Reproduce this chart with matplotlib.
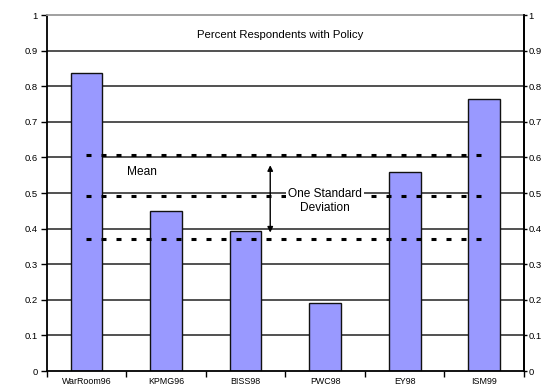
import matplotlib
matplotlib.use("Agg")
import matplotlib.pyplot as plt
from matplotlib.ticker import FixedLocator, FuncFormatter

plt.rcParams['font.family'] = ['Liberation Sans', 'DejaVu Sans']
plt.rcParams['lines.scale_dashes'] = False

# Survey data
categories = ["WarRoom96", "KPMG96", "BISS98", "PWC98", "EY98", "ISM99"]
pct_with_policy = [0.836, 0.45, 0.393, 0.19, 0.56, 0.763]
upper_band = [0.607] * len(categories)
mean_line = [0.491] * len(categories)
lower_band = [0.371] * len(categories)
y_ticks = [0, 0.1, 0.2, 0.3, 0.4, 0.5, 0.6, 0.7, 0.8, 0.9, 1]

fig = plt.figure(figsize=(5.43, 3.87), dpi=100)
ax = fig.add_axes([0.086, 0.0413, 0.879, 0.9199])

x = list(range(len(categories)))

# horizontal gridlines
for g in y_ticks[1:-1]:
    ax.axhline(g, color="#222222", lw=1.1, zorder=1)

ax.bar(x, pct_with_policy, width=0.4, color="#9999FF", edgecolor="#111111",
       linewidth=1.0, zorder=2)

for series in (upper_band, mean_line, lower_band):
    ax.plot(x, series, color="black", lw=2.2, linestyle=(0, (3.6, 7.2)),
            dash_capstyle="butt", zorder=3)

ax.set_xlim(-0.5, len(categories) - 0.5)
ax.set_ylim(0, 1)

# spines
for s in ("left", "right", "bottom"):
    ax.spines[s].set_color("black")
    ax.spines[s].set_linewidth(1.3)
ax.spines["top"].set_color("#999999")
ax.spines["top"].set_linewidth(1.3)

fmt = FuncFormatter(lambda v, p: "0" if v == 0 else ("1" if v == 1 else f"{v:.1f}"))
ax.yaxis.set_major_locator(FixedLocator(y_ticks))
ax.yaxis.set_major_formatter(fmt)
ax.tick_params(axis="y", direction="out", length=4, width=1, labelsize=6.8,
               left=True, right=False, labelleft=True, labelright=False, pad=2.5)

# secondary value axis on the right
ax2 = ax.twinx()
ax2.set_ylim(0, 1)
ax2.yaxis.set_major_locator(FixedLocator(y_ticks))
ax2.yaxis.set_major_formatter(fmt)
ax2.tick_params(axis="y", direction="out", length=2.5, width=1, labelsize=6.8,
                pad=0.8)
for s in ("left", "top", "bottom"):
    ax2.spines[s].set_visible(False)
ax2.spines["right"].set_linewidth(1.3)

ax.set_xticks(x)
ax.set_xticklabels(categories, fontsize=6.4)
ax.tick_params(axis="x", which="major", length=0, pad=4)
ax.set_xticks([i + 0.5 for i in range(-1, len(categories))], minor=True)
ax.tick_params(axis="x", which="minor", direction="out", length=4, width=1)

ax2.text(0.49, 0.944, "Percent Respondents with Policy", transform=ax.transAxes,
         ha="center", va="center", fontsize=8.2)
ax2.text(0.695, 0.558, "Mean", transform=ax.transData, ha="center",
         va="center", fontsize=8.6, zorder=5)
ax2.text(3.0, 0.477, "One Standard\nDeviation", transform=ax.transData,
         ha="center", va="center", fontsize=8.6, linespacing=1.25, zorder=6,
         bbox=dict(facecolor="white", edgecolor="none", pad=1.5))
ax2.annotate("", xy=(2.31, 0.578), xytext=(2.31, 0.389),
             xycoords=ax.transData, textcoords=ax.transData,
             arrowprops=dict(arrowstyle="<|-|>", color="black", lw=1.0,
                             mutation_scale=8, shrinkA=0, shrinkB=0), zorder=5)

fig.savefig("out.png", dpi=100)
